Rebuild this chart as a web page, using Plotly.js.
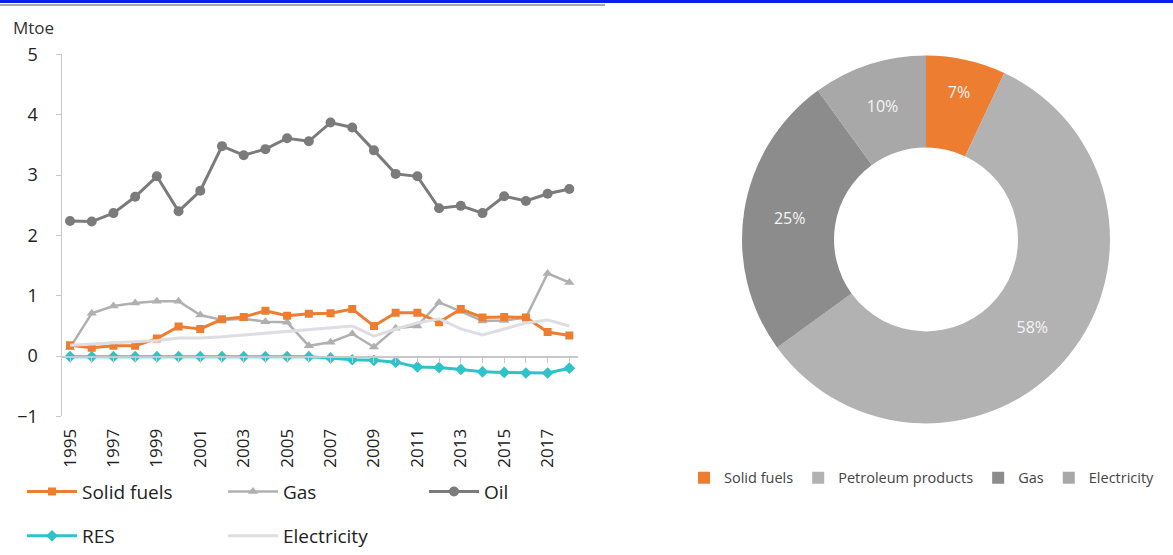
<!DOCTYPE html>
<html>
<head>
<meta charset="utf-8">
<script src="https://cdn.plot.ly/plotly-3.0.1.min.js"></script>
<style>html,body{margin:0;padding:0;background:#fff;}#chart{width:1173px;height:555px;}</style>
</head>
<body>
<div id="chart"></div>
<script>
// ---- data ----
const years = [1995,1996,1997,1998,1999,2000,2001,2002,2003,2004,2005,2006,2007,2008,2009,2010,2011,2012,2013,2014,2015,2016,2017,2018];
const solidFuels = [0.18,0.14,0.17,0.17,0.29,0.49,0.45,0.61,0.65,0.75,0.67,0.70,0.71,0.78,0.50,0.72,0.72,0.56,0.78,0.64,0.65,0.64,0.40,0.34];
const gas        = [0.14,0.71,0.83,0.88,0.91,0.91,0.68,0.60,0.62,0.57,0.56,0.17,0.23,0.37,0.15,0.46,0.50,0.89,0.74,0.58,0.59,0.64,1.37,1.22];
const oil        = [2.24,2.23,2.37,2.64,2.98,2.40,2.74,3.48,3.33,3.43,3.61,3.56,3.87,3.79,3.41,3.02,2.98,2.45,2.49,2.37,2.65,2.57,2.69,2.77];
const res        = [-0.01,-0.01,-0.01,-0.01,-0.01,-0.01,-0.01,-0.01,-0.01,-0.01,-0.01,-0.01,-0.03,-0.06,-0.07,-0.10,-0.18,-0.19,-0.22,-0.26,-0.27,-0.28,-0.28,-0.20];
const electricity= [0.18,0.20,0.22,0.24,0.26,0.30,0.30,0.32,0.35,0.38,0.42,0.45,0.48,0.50,0.33,0.45,0.55,0.62,0.45,0.35,0.45,0.55,0.60,0.50];
const xTickYears = [1995,1997,1999,2001,2003,2005,2007,2009,2011,2013,2015,2017];

const pieLabels = ['Solid fuels','Petroleum products','Gas','Electricity'];
const pieValues = [7,58,25,10];
const pieColors = ['#ED7D31','#B2B2B2','#8C8C8C','#A8A8A8'];

// ---- geometry helpers (pixel -> paper) ----
const W = 1173, H = 555;
const px = v => v / W;
const py = v => (H - v) / H;
const yBot = py(421), yTop = py(55);
const yMin = -1, yMax = 5;
const zeroPos = yBot + (0 - yMin) / (yMax - yMin) * (yTop - yBot);
const xRange = [1994.63, 2018.4];

const font = 'Open Sans, Liberation Sans, sans-serif';

const traces = [
  {x: years, y: electricity, name: 'Electricity', type: 'scatter', mode: 'lines',
   line: {color: '#DDDDE4', width: 3}, xaxis: 'x2', yaxis: 'y', legend: 'legend3', legendrank: 2},
  {x: years, y: gas, name: 'Gas', type: 'scatter', mode: 'lines+markers',
   line: {color: '#B0B0B0', width: 2.5}, marker: {symbol: 'triangle-up', size: 9, color: '#B0B0B0'},
   legend: 'legend', legendrank: 2},
  {x: years, y: solidFuels, name: 'Solid fuels', type: 'scatter', mode: 'lines+markers',
   line: {color: '#ED7D31', width: 3}, marker: {symbol: 'square', size: 8, color: '#ED7D31'},
   legend: 'legend', legendrank: 1},
  {x: years, y: oil, name: 'Oil', type: 'scatter', mode: 'lines+markers',
   line: {color: '#7B7B7B', width: 3}, marker: {symbol: 'circle', size: 10, color: '#7B7B7B'},
   legend: 'legend', legendrank: 3},
  {x: years, y: res, name: 'RES', type: 'scatter', mode: 'lines+markers',
   line: {color: '#2EC2C9', width: 3}, marker: {symbol: 'diamond', size: 9, color: '#2EC2C9'},
   legend: 'legend3', legendrank: 1},
  {type: 'pie', labels: pieLabels, values: pieValues, sort: false, direction: 'clockwise', rotation: 0,
   hole: 0.5, marker: {colors: pieColors, line: {width: 0}},
   textinfo: 'percent', texttemplate: '%{percent:.0%}', textposition: 'inside', insidetextorientation: 'horizontal',
   textfont: {color: '#F4F4F4', size: 16, family: font},
   domain: {x: [px(742), px(1110)], y: [py(430), py(54)]},
   legend: 'legend2'}
];

const layout = {
  width: W, height: H,
  margin: {l: 0, r: 0, t: 0, b: 0},
  paper_bgcolor: '#fff', plot_bgcolor: 'rgba(0,0,0,0)',
  font: {family: font, color: '#333'},
  showlegend: true,
  xaxis: {
    domain: [px(62), px(578)], range: xRange, anchor: 'y',
    tickmode: 'array', tickvals: xTickYears, ticktext: xTickYears.map(String),
    tickangle: -90, ticks: '', showline: false, showgrid: false, zeroline: false,
    ticklabelstandoff: 8,
    tickfont: {size: 17, color: '#222', family: font}
  },
  xaxis2: {
    overlaying: 'x', range: xRange, anchor: 'free', position: zeroPos,
    showline: true, linecolor: '#C8C8C8', linewidth: 1.5,
    ticks: 'outside', ticklen: 5, tickcolor: '#C8C8C8', dtick: 1, tick0: 1995,
    showticklabels: false, showgrid: false, zeroline: false
  },
  yaxis: {
    domain: [yBot, yTop], range: [yMin, yMax], dtick: 1,
    showline: true, linecolor: '#C8C8C8', linewidth: 1.5,
    ticks: 'outside', ticklen: 5, tickcolor: '#C8C8C8',
    showgrid: false, zeroline: false, ticklabelstandoff: 14,
    tickfont: {size: 18, color: '#222', family: font}
  },
  legend: {
    orientation: 'h', x: px(22), xanchor: 'left', y: py(497), yanchor: 'middle',
    entrywidth: 136, font: {size: 19, color: '#222', family: font}, itemwidth: 50,
    bgcolor: 'rgba(0,0,0,0)'
  },
  legend3: {
    orientation: 'h', x: px(22), xanchor: 'left', y: py(542), yanchor: 'middle',
    entrywidth: 136, font: {size: 19, color: '#222', family: font}, itemwidth: 50,
    bgcolor: 'rgba(0,0,0,0)'
  },
  legend2: {
    orientation: 'h', x: px(684), xanchor: 'left', y: py(483), yanchor: 'middle',
    font: {size: 14.5, color: '#444', family: font}, itemwidth: 30,
    bgcolor: 'rgba(0,0,0,0)'
  },
  annotations: [
    {text: 'Mtoe', xref: 'paper', yref: 'paper', x: px(11), y: py(28), xanchor: 'left', yanchor: 'middle',
     showarrow: false, font: {size: 17, color: '#333', family: font}}
  ],
  shapes: [
    {type: 'rect', xref: 'paper', yref: 'paper', x0: 0, x1: 1, y0: py(3), y1: 1,
     fillcolor: '#0A1EE6', line: {width: 0}},
    {type: 'line', xref: 'paper', yref: 'paper', x0: 0, x1: px(605), y0: py(5), y1: py(5),
     line: {color: '#8A8A8A', width: 1.5}}
  ]
};

Plotly.newPlot('chart', traces, layout, {displayModeBar: false, staticPlot: true});
</script>
</body>
</html>
